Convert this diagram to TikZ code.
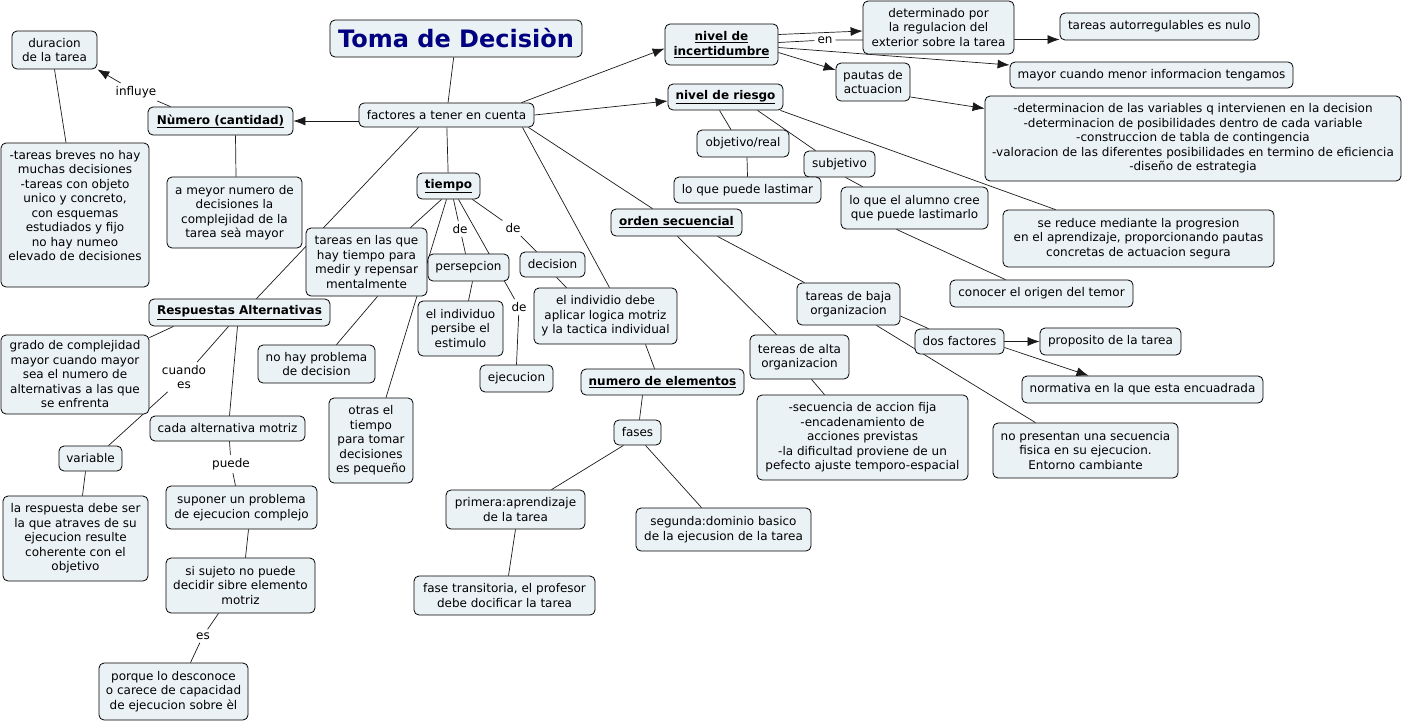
\documentclass[tikz,border=0pt]{standalone}
\usepackage{fontspec}
\setmainfont{DejaVu Sans}
\usetikzlibrary{calc}
\usetikzlibrary{positioning}
\usetikzlibrary{backgrounds}
\usetikzlibrary{arrows.meta}
\definecolor{conceptFill}{HTML}{EBF2F5}
\definecolor{titleColor}{HTML}{000080}
\definecolor{linkColor}{HTML}{1A1A1A}

\begin{document}
\begin{tikzpicture}[x=1pt, y=-1pt,
		concept/.style={draw=black, fill=conceptFill, rounded corners=5pt, line width=0.8pt, align=center, inner sep=2pt, font=\fontsize{12}{14.5}\selectfont},
		key/.style={concept, font=\fontsize{12}{14.5}\selectfont\bfseries},
		sz/.style 2 args={minimum width=#1pt, minimum height=#2pt},
		lnk/.style={inner sep=3pt, align=center, font=\fontsize{12}{14}\selectfont},
		con/.style={draw=linkColor, line width=0.7pt},
		arr/.style={con, -{Latex[length=12pt, width=9pt]}}
		]
		\useasboundingbox (0,0) rectangle (1404,723);

		% Title and centre
		\node[concept, sz={252}{37}, font=\fontsize{24}{28}\selectfont\bfseries, text=titleColor] (title) at (456,38.5) {Toma de Decisiòn};
		\node[concept, sz={175}{24}] (factores) at (446.5,115) {factores a tener en cuenta};

		% Numero (cantidad)
		\node[key, sz={145}{28}] (numero) at (220.5,121) {\underline{Nùmero (cantidad)}};
		\node[concept, sz={85}{38}] (duracion) at (54.5,50) {duracion\\de la tarea};
		\node[concept, sz={148}{144}] (breves) at (75,215) {-tareas breves no hay\\muchas decisiones\\-tareas con objeto\\unico y concreto,\\con esquemas\\estudiados y fijo\\no hay numeo\\elevado de decisiones\\ \strut};
		\node[concept, sz={135}{71}] (mayornum) at (234.5,212.5) {a meyor numero de\\decisiones la\\complejidad de la\\tarea seà mayor};

		% Tiempo
		\node[key, sz={63}{26}] (tiempo) at (448.5,186) {\underline{tiempo}};
		\node[concept, sz={121}{68}] (tareasTiempo) at (366.5,262) {tareas en las que\\hay tiempo para\\medir y repensar\\mentalmente};
		\node[concept, sz={81}{27}] (persepcion) at (468.5,267.5) {persepcion};
		\node[concept, sz={65}{25}] (decision) at (552.5,264.5) {decision};
		\node[concept, sz={85}{55}] (individuo) at (460.5,328.5) {el individuo\\persibe el\\estimulo};
		\node[concept, sz={73}{27}] (ejecucion) at (516.5,378.5) {ejecucion};
		\node[concept, sz={143}{56}] (logica) at (605.5,316) {el individio debe\\aplicar logica motriz\\y la tactica individual};
		\node[concept, sz={117}{38}] (noproblema) at (316.5,364) {no hay problema\\de decision};
		\node[concept, sz={84}{85}] (otras) at (371,440.5) {otras el\\tiempo\\para tomar\\decisiones\\es pequeño};

		% Respuestas Alternativas
		\node[key, sz={181}{27}] (respuestas) at (239.5,312.5) {\underline{Respuestas Alternativas}};
		\node[concept, sz={148}{79}] (grado) at (75,374.5) {grado de complejidad\\mayor cuando mayor\\sea el numero de\\alternativas a las que\\se enfrenta};
		\node[concept, sz={155}{25}] (cada) at (227.5,428.5) {cada alternativa motriz};
		\node[concept, sz={63}{25}] (variable) at (90.5,458.5) {variable};
		\node[concept, sz={145}{85}] (laRespuesta) at (75.5,538.5) {la respuesta debe ser\\la que atraves de su\\ejecucion resulte\\coherente con el\\objetivo};
		\node[concept, sz={151}{43}] (suponer) at (241.5,507.5) {suponer un problema\\de ejecucion complejo};
		\node[concept, sz={149}{55}] (sisujeto) at (240.5,585.5) {si sujeto no puede\\decidir sibre elemento\\motriz};
		\node[concept, sz={149}{57}] (porque) at (173.5,691.5) {porque lo desconoce\\o carece de capacidad\\de ejecucion sobre èl};

		% Nivel de incertidumbre
		\node[key, sz={113}{41}] (incert) at (721.5,44.5) {\underline{nivel de}\\\underline{incertidumbre}};
		\node[concept, sz={151}{53}] (determinado) at (938.5,27.5) {determinado por\\la regulacion del\\exterior sobre la tarea};
		\node[concept, sz={199}{27}] (autorreg) at (1159.5,26.5) {tareas autorregulables es nulo};
		\node[concept, sz={283}{26}] (mayorcuando) at (1151.5,75) {mayor cuando menor informacion tengamos};
		\node[concept, sz={74}{38}] (pautas) at (873,82) {pautas de\\actuacion};
		\node[concept, sz={416}{85}] (determinacion) at (1193,138.5) {-determinacion de las variables q intervienen en la decision\\-determinacion de posibilidades dentro de cada variable\\-construccion de tabla de contingencia\\-valoracion de las diferentes posibilidades en termino de eficiencia\\-diseño de estrategia};

		% Nivel de riesgo
		\node[key, sz={115}{26}] (riesgo) at (725.5,97) {\underline{nivel de riesgo}};
		\node[concept, sz={92}{27}] (objetivo) at (743,143.5) {objetivo/real};
		\node[concept, sz={71}{26}] (subjetivo) at (839.5,164) {subjetivo};
		\node[concept, sz={147}{26}] (lastimar) at (747.5,190) {lo que puede lastimar};
		\node[concept, sz={147}{42}] (alumno) at (914.5,208) {lo que el alumno cree\\que puede lastimarlo};
		\node[concept, sz={271}{57}] (sereduce) at (1138.5,238.5) {se reduce mediante la progresion\\en el aprendizaje, proporcionando pautas\\concretas de actuacion segura};
		\node[concept, sz={183}{27}] (conocer) at (1041.5,293.5) {conocer el origen del temor};

		% Orden secuencial
		\node[key, sz={131}{27}] (orden) at (676.5,222.5) {\underline{orden secuencial}};
		\node[concept, sz={103}{42}] (baja) at (848.5,304) {tareas de baja\\organizacion};
		\node[concept, sz={89}{25}] (dosfact) at (959.5,341.5) {dos factores};
		\node[concept, sz={141}{27}] (proposito) at (1110.5,341.5) {proposito de la tarea};
		\node[concept, sz={241}{27}] (normativa) at (1142.5,389.5) {normativa en la que esta encuadrada};
		\node[concept, sz={185}{55}] (nopresentan) at (1085.5,450.5) {no presentan una secuencia\\fisica en su ejecucion.\\Entorno cambiante};
		\node[concept, sz={99}{44}] (alta) at (799.5,357) {tereas de alta\\organizacion};
		\node[concept, sz={211}{85}] (secuencia) at (862.5,437.5) {-secuencia de accion fija\\-encadenamiento de\\acciones previstas\\-la dificultad proviene de un\\pefecto ajuste temporo-espacial};

		% Numero de elementos
		\node[key, sz={163}{26}] (numelem) at (662.5,382) {\underline{numero de elementos}};
		\node[concept, sz={47}{25}] (fases) at (637.5,432.5) {fases};
		\node[concept, sz={139}{39}] (primera) at (515.5,509.5) {primera:aprendizaje\\de la tarea};
		\node[concept, sz={175}{43}] (segunda) at (723.5,529.5) {segunda:dominio basico\\de la ejecusion de la tarea};
		\node[concept, sz={181}{39}] (fasetrans) at (504.5,595.5) {fase transitoria, el profesor\\debe docificar la tarea};

		% Linking words
		\node[lnk] (influye) at (136,92) {influye};
		\node[lnk] (en) at (825,40) {en};
		\node[lnk] (deP) at (460,229) {de};
		\node[lnk] (deD) at (513,228) {de};
		\node[lnk] (deE) at (519,307) {de};
		\node[lnk] (cuando) at (184,377) {cuando\\es};
		\node[lnk] (puede) at (231,464) {puede};
		\node[lnk] (es) at (203,636) {es};

		\begin{scope}[on background layer]
			% From the centre
			\draw[con] (title) -- (factores);
			\draw[arr] ([yshift=-6pt]factores.west) -- (numero.east);
			\draw[arr] ([xshift=75pt]factores.north) -- ([yshift=-4pt]incert.west);
			\draw[arr] (factores.east) -- ([yshift=-4pt]riesgo.west);
			\draw[con] (factores) -- (tiempo);
			\draw[con] ([xshift=-28pt]factores.south) -- ([xshift=17pt]respuestas.north);
			\draw[con] ([xshift=76pt]factores.south) -- ([xshift=4pt]logica.north);
			\draw[con] ([xshift=-6pt]factores.south east) -- ([xshift=-24pt]orden.north);

			% Numero (cantidad)
			\draw[arr] ([xshift=-50pt]numero.north) -- (influye) -- (duracion.south east);
			\draw[con] (duracion.south) -- ([xshift=-9pt]breves.north);
			\draw[con] ([xshift=15pt]numero.south) -- ([xshift=1.5pt]mayornum.north);

			% Tiempo
			\draw[con] ([xshift=-7pt]tiempo.south) -- ([xshift=44pt]tareasTiempo.north);
			\draw[con] ([xshift=-2pt]tiempo.south) -- ([xshift=15pt]otras.north);
			\draw[con] ([xshift=5pt]tiempo.south) -- (deP) -- ([xshift=-3pt]persepcion.north);
			\draw[con] ([xshift=10pt]tiempo.south) -- (deE) -- (ejecucion.north);
			\draw[con] ([xshift=-8pt]tiempo.south east) -- (deD) -- ([xshift=-16pt]decision.north);
			\draw[con] ([xshift=4pt]persepcion.south) -- ([xshift=8pt]individuo.north);
			\draw[con] ([xshift=4pt]decision.south) -- ([xshift=-39pt]logica.north);
			\draw[con] ([xshift=11pt]tareasTiempo.south) -- ([xshift=20pt]noproblema.north);
			\draw[con] ([xshift=40pt]logica.south) -- ([xshift=-8pt]numelem.north);

			% Numero de elementos
			\draw[con] ([xshift=-20pt]numelem.south) -- ([xshift=2pt]fases.north);
			\draw[con] ([xshift=-14pt]fases.south) -- ([xshift=36pt]primera.north);
			\draw[con] ([xshift=8pt]fases.south) -- ([xshift=-22pt]segunda.north);
			\draw[con] (primera.south) -- ([xshift=4pt]fasetrans.north);

			% Respuestas Alternativas
			\draw[con] ([xshift=-66pt]respuestas.south) -- ([yshift=-3pt]grado.north east);
			\draw[con] ([xshift=-11pt]respuestas.south) -- (cuando) -- ([xshift=18pt]variable.north);
			\draw[con] ([xshift=-2pt]respuestas.south) -- ([xshift=2pt]cada.north);
			\draw[con] ([xshift=2pt]cada.south) -- (puede) -- ([xshift=-6pt]suponer.north);
			\draw[con] ([xshift=-5pt]variable.south) -- ([xshift=7pt]laRespuesta.north);
			\draw[con] ([xshift=7pt]suponer.south) -- ([xshift=5pt]sisujeto.north);
			\draw[con] ([xshift=-22pt]sisujeto.south) -- (es) -- ([xshift=17pt]porque.north);

			% Nivel de incertidumbre
			\draw[arr] ([yshift=10pt]incert.east) -- ([yshift=-3.5pt]determinado.west);
			\draw[arr] ([yshift=2pt]incert.east) -- (en) -- ([yshift=-13pt]autorreg.west);
			\draw[arr] ([yshift=-3pt]incert.east) -- ([yshift=10pt]mayorcuando.west);
			\draw[arr] ([yshift=-8pt]incert.east) -- ([yshift=12pt]pautas.west);
			\draw[arr] ([yshift=-15pt]pautas.east) -- ([yshift=30pt]determinacion.west);

			% Nivel de riesgo
			\draw[con] ([xshift=-6pt]riesgo.south) -- ([xshift=-12pt]objetivo.north);
			\draw[con] ([xshift=32pt]riesgo.south) -- ([xshift=-24pt]subjetivo.north);
			\draw[con] ([xshift=-3pt]riesgo.south east) -- ([xshift=-83pt]sereduce.north);
			\draw[con] ([xshift=4pt]objetivo.south) -- (lastimar.north);
			\draw[con] ([xshift=6pt]subjetivo.south) -- ([xshift=-52pt]alumno.north);
			\draw[con] ([xshift=-18pt]alumno.south) -- ([xshift=-36pt]conocer.north);

			% Orden secuencial
			\draw[con] ([xshift=41pt]orden.south) -- ([xshift=-44pt]baja.north);
			\draw[con] ([xshift=1pt]orden.south) -- ([xshift=-23pt]alta.north);
			\draw[con] ([xshift=12pt]alta.south) -- ([xshift=-38pt]secuencia.north);
			\draw[con] ([yshift=-12pt]baja.east) -- ([xshift=-31pt]dosfact.north);
			\draw[con] ([xshift=28pt]baja.south) -- ([xshift=-50pt]nopresentan.north);
			\draw[arr] (dosfact.east) -- (proposito.west);
			\draw[arr] ([yshift=-6pt]dosfact.east) -- ([xshift=-54pt]normativa.north);
		\end{scope}
	\end{tikzpicture}
\end{document}
